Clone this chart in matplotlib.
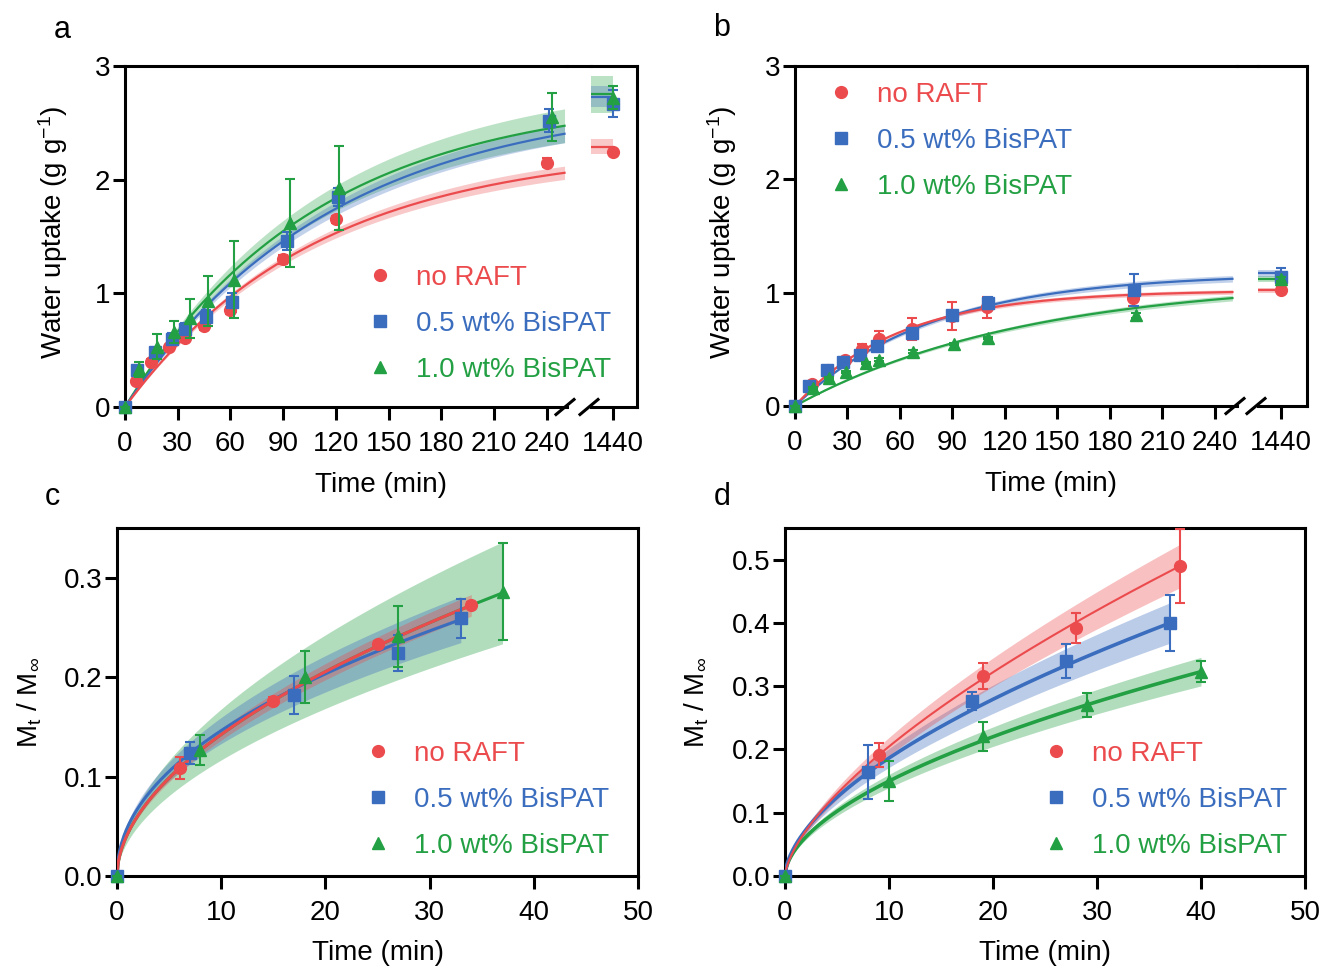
import matplotlib
matplotlib.use('Agg')
import matplotlib.pyplot as plt
from matplotlib.lines import Line2D
import numpy as np

plt.rcParams['font.family'] = ['Liberation Sans', 'DejaVu Sans']
plt.rcParams['mathtext.fontset'] = 'custom'
plt.rcParams['mathtext.rm'] = 'Liberation Sans'
plt.rcParams['mathtext.it'] = 'Liberation Sans:italic'

# series order everywhere: no RAFT, 0.5 wt% BisPAT, 1.0 wt% BisPAT
LABELS = ['no RAFT', '0.5 wt% BisPAT', '1.0 wt% BisPAT']
COLORS = ['#EC4B4E', '#3B6DBE', '#23A043']
MARKERS = ['o', 's', '^']

# panel a: water uptake, first 4 h and 24 h point
A_TIME = [[0, 6, 15, 25, 34, 45, 60, 90, 120, 240],
          [0, 7, 17, 27, 34, 46, 61, 92, 121, 241],
          [0, 8, 18, 28, 37, 47, 62, 94, 122, 243]]
A_UPTAKE = [[0, 0.23, 0.40, 0.525, 0.61, 0.71, 0.85, 1.30, 1.65, 2.15],
            [0, 0.325, 0.48, 0.60, 0.69, 0.79, 0.92, 1.46, 1.85, 2.52],
            [0, 0.33, 0.53, 0.66, 0.78, 0.93, 1.12, 1.62, 1.93, 2.55]]
A_ERR = [[0, 0.02, 0.02, 0.02, 0.02, 0.03, 0.03, 0.04, 0.03, 0.04],
         [0, 0.04, 0.04, 0.05, 0.05, 0.06, 0.08, 0.08, 0.08, 0.10],
         [0, 0.07, 0.11, 0.10, 0.17, 0.22, 0.34, 0.39, 0.37, 0.21]]
A_DAY_UPTAKE = [2.24, 2.67, 2.72]
A_DAY_ERR = [0.02, 0.12, 0.10]
A_FIT_YMAX = [2.29, 2.73, 2.75]
A_FIT_K = [0.0092, 0.0085, 0.0092]
A_FIT_BAND = [0.065, 0.09, 0.165]

# panel b
B_TIME = [[0, 9.5, 19, 28.5, 38.5, 48, 67, 90, 110, 193],
          [0, 8, 18.5, 27.5, 37, 47, 67, 90, 110.5, 194],
          [0, 10.5, 19.5, 29, 40.5, 48, 67.5, 91, 110.5, 195]]
B_UPTAKE = [[0, 0.194, 0.318, 0.406, 0.506, 0.594, 0.68, 0.794, 0.87, 0.956],
            [0, 0.177, 0.318, 0.385, 0.45, 0.53, 0.64, 0.80, 0.906, 1.024],
            [0, 0.156, 0.244, 0.303, 0.377, 0.41, 0.48, 0.547, 0.597, 0.80]]
B_ERR = [[0, 0.02, 0.02, 0.02, 0.04, 0.07, 0.10, 0.12, 0.09, 0.07],
         [0, 0.01, 0.02, 0.02, 0.02, 0.03, 0.05, 0.04, 0.06, 0.14],
         [0, 0.01, 0.01, 0.01, 0.01, 0.01, 0.01, 0.01, 0.01, 0.02]]
B_DAY_UPTAKE = [1.024, 1.135, 1.12]
B_DAY_ERR = [0.01, 0.085, 0.02]
B_FIT_YMAX = [1.02, 1.17, 1.12]
B_FIT_K = [0.017, 0.0128, 0.0076]
B_FIT_BAND = [0.02, 0.03, 0.03]

# panel c: fractional uptake, power law fits
C_TIME = [[0, 6, 15, 25, 34], [0, 7, 17, 27, 33], [0, 8, 18, 27, 37]]
C_FRAC = [[0, 0.109, 0.176, 0.233, 0.273],
          [0, 0.124, 0.182, 0.224, 0.259],
          [0, 0.127, 0.20, 0.241, 0.286]]
C_ERR = [[0, 0.011, 0.004, 0.003, 0.003],
         [0, 0.011, 0.019, 0.018, 0.020],
         [0, 0.015, 0.026, 0.031, 0.049]]
C_FIT_K = [0.042, 0.049, 0.042]
C_FIT_N = [0.53, 0.475, 0.53]
C_FIT_BAND = [0.04, 0.09, 0.18]

# panel d
D_TIME = [[0, 9, 19, 28, 38], [0, 8, 18, 27, 37], [0, 10, 19, 29, 40]]
D_FRAC = [[0, 0.191, 0.316, 0.392, 0.49],
          [0, 0.164, 0.277, 0.34, 0.40],
          [0, 0.15, 0.221, 0.27, 0.323]]
D_ERR = [[0, 0.019, 0.021, 0.024, 0.058],
         [0, 0.043, 0.014, 0.027, 0.044],
         [0, 0.032, 0.023, 0.019, 0.017]]
D_FIT_K = [0.0454, 0.0487, 0.042]
D_FIT_N = [0.654, 0.583, 0.553]
D_FIT_BAND = [0.07, 0.08, 0.07]
D_FIT_LW = [1.5, 2.6, 2.6]

W, H = 1322, 968
FS = 20
LW = 2.2


def add_ax(fig, left, right, top, bottom):
    return fig.add_axes([left / W, 1 - bottom / H, (right - left) / W, (bottom - top) / H])


def style(ax):
    for s in ax.spines.values():
        s.set_linewidth(LW)
    ax.tick_params(direction='out', length=9, width=LW, labelsize=FS)
    ax.tick_params(axis='x', pad=8)
    ax.tick_params(axis='y', pad=1.5)


def fig_line(fig, xs, ys):
    fig.add_artist(Line2D([x / W for x in xs], [1 - y / H for y in ys],
                          transform=fig.transFigure, color='k', lw=LW))


def draw_points(ax, t, y, e, i):
    ax.errorbar(t, y, yerr=e, fmt=MARKERS[i], color=COLORS[i], ms=8.5,
                elinewidth=1.5, capsize=3.5, capthick=1.5, clip_on=False, zorder=4 + i * 0.1)


def plateau_panel(fig, box, times, vals, errs, day_vals, day_errs, ymax, kk, band, xb):
    left, right, top, bottom, bleft, bright = box
    ax = add_ax(fig, left, right, top, bottom)
    axb = add_ax(fig, bleft, bright, top, bottom)
    ax.set_xlim(0, xb[0])
    axb.set_xlim(xb[1], xb[2])
    for a in (ax, axb):
        a.set_ylim(0, 3)
        style(a)
    ax.spines['right'].set_visible(False)
    axb.spines['left'].set_visible(False)
    axb.set_yticks([])
    ax.set_xticks(range(0, 241, 30))
    ax.set_yticks([0, 1, 2, 3])
    axb.set_xticks([1440])
    fig_line(fig, [right, bleft], [top, top])
    for cx in (right - 2, bleft - 2):
        fig_line(fig, [cx - 9, cx + 9], [bottom + 7.5, bottom - 7.5])

    tt = np.linspace(0, 250, 300)
    td = np.linspace(xb[1], 1440, 20)
    for i in (2, 1, 0):
        for a, tx in ((ax, tt), (axb, td)):
            shape = 1 - np.exp(-kk[i] * tx)
            a.fill_between(tx, (ymax[i] - band[i]) * shape, (ymax[i] + band[i]) * shape,
                           color=COLORS[i], alpha=0.3, lw=0, zorder=2)
            a.plot(tx, ymax[i] * shape, color=COLORS[i], lw=1.6, zorder=3)
        draw_points(ax, times[i], vals[i], errs[i], i)
        draw_points(axb, [1440], [day_vals[i]], [day_errs[i]], i)
    fig.text((left + bright) / 2 / W, 1 - (bottom + 78) / H, 'Time (min)',
             fontsize=FS, ha='center', va='center')
    return ax


def power_panel(fig, box, times, vals, errs, kk, nn, band, lws, ylim, yticks):
    left, right, top, bottom = box
    ax = add_ax(fig, left, right, top, bottom)
    style(ax)
    ax.set_xlim(0, 50)
    ax.set_ylim(0, ylim)
    ax.set_xticks(range(0, 51, 10))
    ax.set_yticks(yticks)
    ax.set_yticklabels(['%.1f' % v for v in yticks])
    for i in (2, 1, 0):
        tx = np.linspace(0, times[i][-1], 300)
        f = kk[i] * tx ** nn[i]
        ax.fill_between(tx, f * (1 - band[i]), f * (1 + band[i]),
                        color=COLORS[i], alpha=0.35, lw=0, zorder=2)
        ax.plot(tx, f, color=COLORS[i], lw=lws[i], zorder=3)
        draw_points(ax, times[i], vals[i], errs[i], i)
    ax.set_xlabel('Time (min)', fontsize=FS, labelpad=10)
    return ax


def add_legend(fig, x, y):
    handles = [Line2D([], [], marker=MARKERS[i], color=COLORS[i], ls='none', ms=8.5)
               for i in range(3)]
    fig.legend(handles, LABELS, loc='center left', bbox_to_anchor=(x / W, 1 - y / H),
               frameon=False, fontsize=FS,
               handlelength=1.0, handletextpad=0.8, labelspacing=0.72,
               borderpad=0, borderaxespad=0, labelcolor='markerfacecolor')


fig = plt.figure(figsize=(W / 100, H / 100), dpi=100)

ax_a = plateau_panel(fig, (125, 567, 66, 407, 591, 637), A_TIME, A_UPTAKE, A_ERR,
                     A_DAY_UPTAKE, A_DAY_ERR, A_FIT_YMAX, A_FIT_K, A_FIT_BAND,
                     (251.4, 1427.5, 1453.7))
ax_b = plateau_panel(fig, (795, 1237, 66, 406, 1258, 1307), B_TIME, B_UPTAKE, B_ERR,
                     B_DAY_UPTAKE, B_DAY_ERR, B_FIT_YMAX, B_FIT_K, B_FIT_BAND,
                     (252.6, 1426.9, 1454.9))
ax_c = power_panel(fig, (117, 638, 528, 876), C_TIME, C_FRAC, C_ERR, C_FIT_K, C_FIT_N,
                   C_FIT_BAND, [2.2, 2.2, 2.2], 0.35, [0, 0.1, 0.2, 0.3])
ax_d = power_panel(fig, (785, 1305, 528, 876), D_TIME, D_FRAC, D_ERR, D_FIT_K, D_FIT_N,
                   D_FIT_BAND, D_FIT_LW, 0.55, [0, 0.1, 0.2, 0.3, 0.4, 0.5])

add_legend(fig, 366, 324)
add_legend(fig, 827, 141)
add_legend(fig, 364, 800)
add_legend(fig, 1042, 800)

wu = r'Water uptake (g g$\mathregular{^{-1}}$)'
mt = r'$\mathregular{M_t}$ / $\mathregular{M_\infty}$'
for x, y, s in ((53, 232, wu), (722, 232, wu), (30, 702, mt), (697, 702, mt)):
    fig.text(x / W, 1 - y / H, s, fontsize=FS, rotation=90, ha='center', va='center')
for x, y, s in ((62, 30, 'a'), (722, 28, 'b'), (52, 497, 'c'), (722, 497, 'd')):
    fig.text(x / W, 1 - y / H, s, fontsize=22, ha='center', va='center')

fig.savefig('out.png', dpi=100)
